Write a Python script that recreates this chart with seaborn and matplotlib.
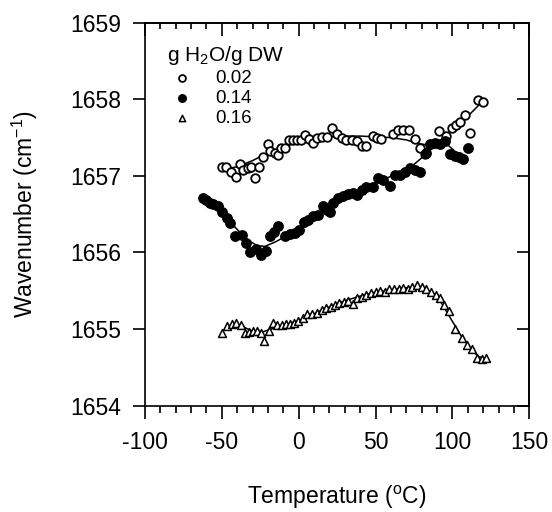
import numpy as np
import pandas as pd
import matplotlib
matplotlib.use("Agg")
import matplotlib.pyplot as plt
from matplotlib.ticker import MultipleLocator
import seaborn as sns

# ---------------- data ----------------
T02 = [-50, -47, -44, -41, -38, -36, -33, -31, -28.5, -26, -23, -20.3, -18.5, -15.5, -13.5,
       -11.5, -9, -6, -3.5, -1, 1.5, 4, 7, 9.5, 12, 15, 18.5, 21.8, 24.7, 28, 31, 34.5, 37.7,
       41, 44, 48, 50.7, 53.5, 61.6, 64.8, 68, 71.8, 75.7, 79, 82, 91.5, 95.5, 99.5, 102, 105,
       108, 111.5, 116.5, 120]
W02 = [1657.12, 1657.11, 1657.05, 1656.99, 1657.16, 1657.08, 1657.10, 1657.12, 1656.97, 1657.12,
       1657.25, 1657.42, 1657.33, 1657.30, 1657.27, 1657.37, 1657.37, 1657.47, 1657.47, 1657.47,
       1657.47, 1657.53, 1657.48, 1657.43, 1657.50, 1657.51, 1657.51, 1657.63, 1657.55, 1657.49,
       1657.47, 1657.47, 1657.45, 1657.39, 1657.39, 1657.52, 1657.49, 1657.48, 1657.55, 1657.60,
       1657.60, 1657.60, 1657.48, 1657.37, 1657.29, 1657.58, 1657.52, 1657.62, 1657.66, 1657.71,
       1657.80, 1657.56, 1657.99, 1657.97]

T14 = [-62, -60, -57.7, -55.5, -52.3, -50, -46.8, -44.7, -41.4, -37.1, -34.3, -31.7, -27.8, -24.5,
       -21.3, -18.7, -16.1, -13.3, -8.9, -5.7, -2.4, 0.4, 3.4, 6.2, 9.5, 12.8, 15.6, 18.2, 20.4,
       22.5, 25.8, 29, 32.3, 35, 38, 41, 44, 48.5, 51.8, 55, 59.4, 62.7, 65.9, 69.2, 72.4, 75.7,
       78.9, 82.8, 85.4, 88.7, 91.9, 95.2, 98.4, 101.7, 104.5, 107.1, 110.4]
W14 = [1656.71, 1656.68, 1656.65, 1656.63, 1656.61, 1656.53, 1656.45, 1656.39, 1656.21, 1656.23,
       1656.13, 1656.00, 1656.05, 1655.97, 1656.02, 1656.21, 1656.27, 1656.34, 1656.22, 1656.24,
       1656.26, 1656.30, 1656.40, 1656.42, 1656.48, 1656.49, 1656.61, 1656.55, 1656.53, 1656.64,
       1656.71, 1656.74, 1656.76, 1656.78, 1656.75, 1656.82, 1656.85, 1656.86, 1656.97, 1656.95,
       1656.87, 1657.01, 1657.01, 1657.05, 1657.10, 1657.08, 1657.05, 1657.30, 1657.42, 1657.43,
       1657.42, 1657.45, 1657.29, 1657.26, 1657.25, 1657.22, 1657.37]

T16 = [-50, -46.8, -43.6, -40.8, -37.7, -34.9, -32.1, -29.5, -26.9, -24.7, -22.4, -19.3, -16.5,
       -13.9, -11.1, -8.3, -5.7, -2.9, -0.3, 2.6, 5.6, 8.5, 11.7, 15, 17.8, 20.8, 23.6, 26.4, 29.5,
       32.3, 35.5, 38, 41, 44, 47, 50, 53, 56, 59, 62, 65, 68, 71, 74, 77, 80, 83, 86, 89, 92,
       94.5, 98, 101.7, 106, 109.3, 112.6, 115.8, 119, 121.9]
W16 = [1654.95, 1655.04, 1655.07, 1655.08, 1655.05, 1654.95, 1654.96, 1654.97, 1654.98, 1654.95,
       1654.84, 1654.98, 1655.08, 1655.05, 1655.05, 1655.07, 1655.07, 1655.08, 1655.11, 1655.15,
       1655.20, 1655.20, 1655.21, 1655.25, 1655.27, 1655.29, 1655.31, 1655.34, 1655.36, 1655.37,
       1655.33, 1655.40, 1655.42, 1655.45, 1655.47, 1655.48, 1655.50, 1655.48, 1655.52, 1655.53,
       1655.52, 1655.54, 1655.53, 1655.55, 1655.57, 1655.55, 1655.52, 1655.48, 1655.44, 1655.40,
       1655.31, 1655.23, 1655.00, 1654.89, 1654.79, 1654.74, 1654.62, 1654.61, 1654.62]

# fitted curves (knots)
FT02 = [-50, -40, -30, -20, -10, 0, 10, 20, 30, 40, 50, 60, 70, 78, 86, 92, 100, 110, 120]
FW02 = [1657.08, 1657.12, 1657.20, 1657.30, 1657.38, 1657.44, 1657.48, 1657.51, 1657.52, 1657.52,
        1657.51, 1657.50, 1657.47, 1657.42, 1657.40, 1657.46, 1657.60, 1657.78, 1657.98]
FT14 = [-62, -55, -48, -40, -33, -27, -22, -15, -5, 5, 15, 25, 35, 45, 55, 65, 75, 82, 88, 95, 100, 105]
FW14 = [1656.72, 1656.62, 1656.47, 1656.30, 1656.16, 1656.09, 1656.08, 1656.14, 1656.25, 1656.38,
        1656.52, 1656.66, 1656.78, 1656.87, 1656.95, 1657.04, 1657.15, 1657.27, 1657.38, 1657.44,
        1657.35, 1657.26]
FT16 = [-50, -44, -40, -36, -30, -24, -18, -10, 0, 10, 20, 30, 40, 50, 60, 70, 78, 85, 92, 100,
        106, 112, 117, 121]
FW16 = [1654.97, 1655.05, 1655.07, 1655.03, 1654.97, 1654.96, 1655.00, 1655.05, 1655.11, 1655.20,
        1655.29, 1655.37, 1655.43, 1655.48, 1655.51, 1655.54, 1655.55, 1655.50, 1655.37, 1655.10,
        1654.90, 1654.74, 1654.64, 1654.62]

labels = ["0.02", "0.14", "0.16"]
legend_title = "g H$_2$O/g DW"
xlabel = "Temperature ($^{o}$C)"
ylabel = "Wavenumber (cm$^{-1}$)"
xticks = [-100, -50, 0, 50, 100, 150]
yticks = [1654, 1655, 1656, 1657, 1658, 1659]

# ---------------- style ----------------
sns.set_theme(style="white")
plt.rcParams["font.family"] = ["Liberation Sans", "DejaVu Sans"]
plt.rcParams["mathtext.default"] = "regular"
for k in ["axes.edgecolor", "text.color", "xtick.color", "ytick.color", "axes.labelcolor"]:
    plt.rcParams[k] = "black"

fig = plt.figure(figsize=(5.52, 5.12), dpi=100)
ax = fig.add_axes([145 / 552, 1 - 405.7 / 512, 384.3 / 552, 383 / 512])

# fitted lines
for ft, fw in [(FT02, FW02), (FT14, FW14), (FT16, FW16)]:
    sns.lineplot(x=ft, y=fw, color="black", linewidth=1.1, sort=False, estimator=None,
                 ax=ax, legend=False, zorder=2)

# data points
sns.scatterplot(x=T02, y=W02, marker="o", color="white", edgecolor="black", linewidth=1.3,
                s=38, ax=ax, label=labels[0], zorder=3)
sns.scatterplot(x=T14, y=W14, marker="o", color="black", edgecolor="black", linewidth=1.0,
                s=46, ax=ax, label=labels[1], zorder=3)
sns.scatterplot(x=T16, y=W16, marker="^", color="white", edgecolor="black", linewidth=1.1,
                s=32, ax=ax, label=labels[2], zorder=3)

ax.set_xlim(-100, 150)
ax.set_ylim(1654, 1659)
ax.set_xticks(xticks)
ax.set_xticklabels([str(v) for v in xticks])
ax.set_yticks(yticks)
ax.set_yticklabels([str(v) for v in yticks])
ax.xaxis.set_minor_locator(MultipleLocator(10))

ax.tick_params(which="both", direction="out", bottom=True, left=True, top=False, right=False,
               width=1.2, labelsize=16.5)
ax.tick_params(which="major", length=9)
ax.tick_params(which="minor", length=5)
ax.tick_params(axis="y", which="minor", left=False)
ax.tick_params(axis="x", pad=9)
ax.tick_params(axis="y", pad=8)
for sp in ax.spines.values():
    sp.set_linewidth(1.2)
    sp.set_color("black")

secx = ax.secondary_xaxis("top")
secx.set_xticks(xticks)
secx.set_xticklabels([])
secx.xaxis.set_minor_locator(MultipleLocator(10))
secx.tick_params(axis="x", which="both", direction="in", top=True, bottom=False,
                 labeltop=False, width=1.2)
secx.tick_params(which="major", length=9)
secx.tick_params(which="minor", length=4)
secx.spines["top"].set_linewidth(1.2)

secy = ax.secondary_yaxis("right")
secy.set_yticks(yticks)
secy.set_yticklabels([])
secy.tick_params(axis="y", which="major", direction="in", right=True, left=False,
                 labelright=False, width=1.2, length=9)
secy.tick_params(axis="y", which="minor", right=False)
secy.spines["right"].set_linewidth(1.2)

ax.set_xlabel(xlabel, fontsize=16.5)
ax.set_ylabel(ylabel, fontsize=16.5)
ax.xaxis.set_label_coords(0.5, -0.205)
ax.yaxis.set_label_coords(-0.273, 0.5)

handles, labs = ax.get_legend_handles_labels()
leg = ax.legend(handles, labs, title=legend_title, loc="upper left",
                bbox_to_anchor=(0.056, 0.944), frameon=False, fontsize=13.5,
                title_fontsize=15, handlelength=1.7, handletextpad=0.9,
                labelspacing=0.15, borderpad=0, borderaxespad=0, alignment="left",
                markerscale=0.8)

fig.savefig("out.png", dpi=100)
